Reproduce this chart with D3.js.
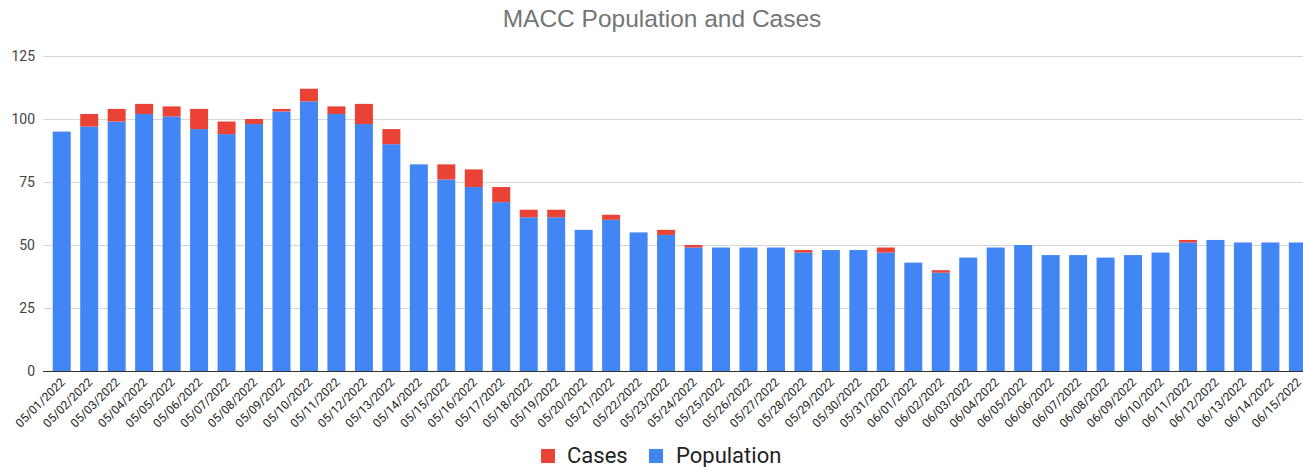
<!DOCTYPE html>
<html>
<head>
<meta charset="utf-8">
<script src="https://cdn.jsdelivr.net/npm/d3@7"></script>
<style>
  body { margin: 0; background: #fff; }
  svg { display: block; }
</style>
</head>
<body>
<div class="canvas"></div>
<script>
// Data
const dates = ['05/01/2022','05/02/2022','05/03/2022','05/04/2022','05/05/2022','05/06/2022',
  '05/07/2022','05/08/2022','05/09/2022','05/10/2022','05/11/2022','05/12/2022','05/13/2022',
  '05/14/2022','05/15/2022','05/16/2022','05/17/2022','05/18/2022','05/19/2022','05/20/2022',
  '05/21/2022','05/22/2022','05/23/2022','05/24/2022','05/25/2022','05/26/2022','05/27/2022',
  '05/28/2022','05/29/2022','05/30/2022','05/31/2022','06/01/2022','06/02/2022','06/03/2022',
  '06/04/2022','06/05/2022','06/06/2022','06/07/2022','06/08/2022','06/09/2022','06/10/2022',
  '06/11/2022','06/12/2022','06/13/2022','06/14/2022','06/15/2022']
const population = [95, 97, 99, 102, 101, 96, 94, 98, 103, 107, 102, 98, 90, 82, 76, 73, 67, 61, 61, 56,
  60, 55, 54, 49, 49, 49, 49, 47, 48, 48, 47, 43, 39, 45, 49, 50, 46, 46, 45, 46, 47, 51, 52, 51, 51, 51]
const cases = [0, 5, 5, 4, 4, 8, 5, 2, 1, 5, 3, 8, 6, 0, 6, 7, 6, 3, 3, 0,
  2, 0, 2, 1, 0, 0, 0, 1, 0, 0, 2, 0, 1, 0, 0, 0, 0, 0, 0, 0, 0, 1, 0, 0, 0, 0]
const yTicks = [0, 25, 50, 75, 100, 125]

const colors = { Population: '#4285f4', Cases: '#ea4335' }

const width = 1303
const height = 467

const svg = d3.select('.canvas')
  .append('svg')
    .attr('width', width)
    .attr('height', height)

// Scales
const x = d3.scaleBand()
  .domain(dates)
  .range([48, 1311.6])
  .paddingInner(0.345)
  .paddingOuter(0.1725)

const y = d3.scaleLinear()
  .domain([0, 125])
  .range([371, 56])

// Gridlines
svg.append('g')
  .selectAll('line')
  .data(yTicks.filter(t => t > 0))
  .enter().append('line')
    .attr('x1', 43)
    .attr('x2', width)
    .attr('y1', d => y(d) + 0.5)
    .attr('y2', d => y(d) + 0.5)
    .attr('stroke', '#d6d6d6')
    .attr('stroke-width', 1)

// Y labels
svg.append('g')
  .selectAll('text')
  .data(yTicks)
  .enter().append('text')
    .attr('x', 35)
    .attr('y', d => y(d))
    .attr('dy', '0.36em')
    .attr('text-anchor', 'end')
    .attr('font-family', 'Roboto, Arial, sans-serif')
    .attr('font-size', 14)
    .attr('fill', '#444')
    .text(d => d)

// Stacked bars
const table = dates.map((d, i) => ({ date: d, Population: population[i], Cases: cases[i] }))
const stacked = d3.stack().keys(['Population', 'Cases'])(table)

svg.append('g')
  .selectAll('g')
  .data(stacked)
  .enter().append('g')
    .attr('fill', s => colors[s.key])
  .selectAll('rect')
  .data(s => s.filter(p => p[1] > p[0]))
  .enter().append('rect')
    .attr('x', p => x(p.data.date))
    .attr('width', x.bandwidth())
    .attr('y', p => y(p[1]))
    .attr('height', p => y(p[0]) - y(p[1]))

// Baseline
svg.append('line')
  .attr('x1', 43)
  .attr('x2', width)
  .attr('y1', y(0) + 0.5)
  .attr('y2', y(0) + 0.5)
  .attr('stroke', '#333')
  .attr('stroke-width', 1)

// X labels, rotated
svg.append('g')
  .selectAll('text')
  .data(dates)
  .enter().append('text')
    .attr('transform', d => `translate(${x(d) + x.bandwidth() / 2 + 1},${y(0) + 9}) rotate(-45)`)
    .attr('text-anchor', 'end')
    .attr('dy', '0.35em')
    .attr('font-family', 'Roboto, Arial, sans-serif')
    .attr('font-size', 12)
    .attr('fill', '#222')
    .text(d => d)

// Title
svg.append('text')
  .attr('x', 662)
  .attr('y', 27)
  .attr('text-anchor', 'middle')
  .attr('font-family', 'Arial, "Liberation Sans", sans-serif')
  .attr('font-size', 24.5)
  .attr('fill', '#757575')
  .text('MACC Population and Cases')

// Legend
const legendItems = [
  { key: 'Cases', x: 541, tx: 567 },
  { key: 'Population', x: 649, tx: 676 }
]
const legend = svg.append('g')
legend.selectAll('rect')
  .data(legendItems)
  .enter().append('rect')
    .attr('x', d => d.x)
    .attr('y', 449)
    .attr('width', 14)
    .attr('height', 14)
    .attr('fill', d => colors[d.key])
legend.selectAll('text')
  .data(legendItems)
  .enter().append('text')
    .attr('x', d => d.tx)
    .attr('y', 463)
    .attr('font-family', 'Roboto, Arial, sans-serif')
    .attr('font-size', 22)
    .attr('fill', '#222')
    .text(d => d.key)
</script>
</body>
</html>
